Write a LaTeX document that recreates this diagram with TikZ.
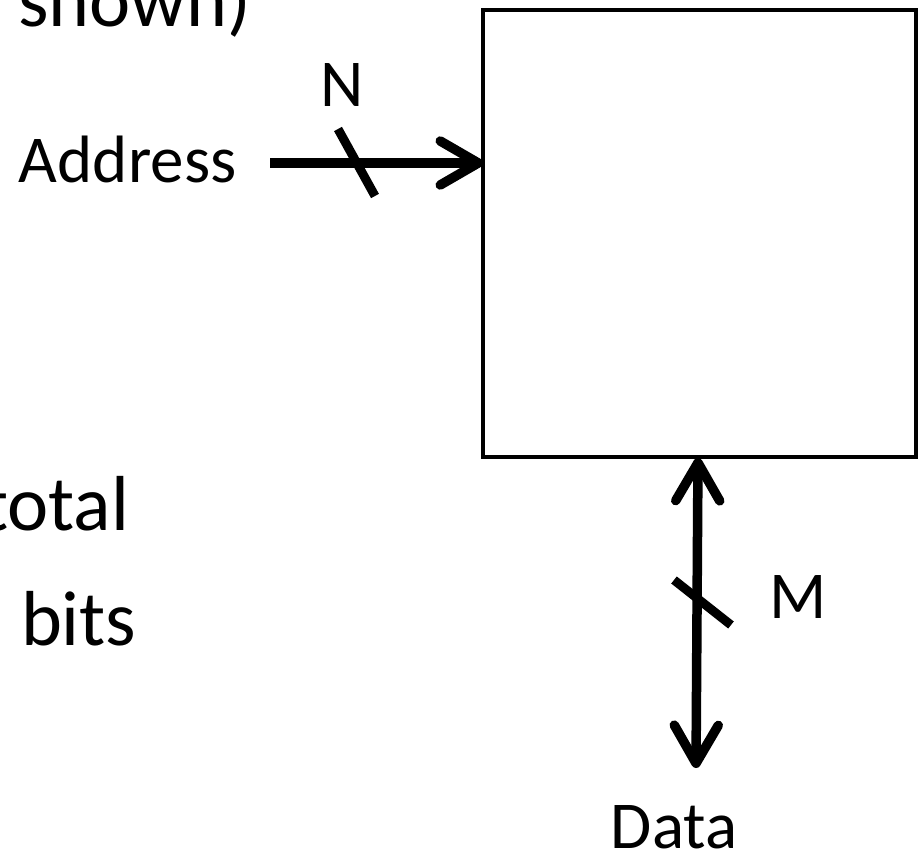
\documentclass[tikz,border=0pt]{standalone}
\usepackage{fontspec}
\setmainfont{Carlito}
\usetikzlibrary{arrows.meta}

\tikzset{
  lbltext/.style={inner sep=0pt, outer sep=0pt, font=\fontsize{67}{80}\selectfont},
  bodytext/.style={inner sep=0pt, outer sep=0pt, font=\fontsize{78}{92}\selectfont},
  memblock/.style={draw, line width=4.5pt, inner sep=0pt, outer sep=0pt,
    minimum width=433pt, minimum height=447pt},
  bus/.style={line width=9.5pt},
  bustip/.tip={Straight Barb[length=38pt, width=44pt, round]},
  buswidth/.style={line width=9pt}
}

\begin{document}
\begin{tikzpicture}[x=1pt, y=-1pt]
  \useasboundingbox (0,0) rectangle (921,853);
  \clip (0,0) rectangle (921,853);

  % memory block
  \node[memblock] (mem) at (699.5,233.5) {};

  % left-hand text (partly outside the frame)
  \node[bodytext, anchor=base west] (shown) at (18,27) {shown)};
  \node[bodytext, anchor=base east] (total) at (129,530) {total};
  \node[bodytext, anchor=base west] (bits) at (21,645) {bits};

  % address input bus
  \node[lbltext, anchor=base west] (addr) at (19,183) {Address};
  \coordinate (astart) at (270,163);
  \draw[bus, -bustip] (astart) -- (mem.west |- astart);
  \draw[buswidth] (338,129) -- (375,196);
  \node[lbltext, anchor=base] (nlab) at (342,107) {N};

  % bidirectional data bus
  \coordinate (dtop) at (698,458);
  \coordinate (dend) at (696,768);
  \draw[bus, bustip-bustip] (dtop) -- (dend);
  \draw[buswidth] (674,580) -- (731,625);
  \node[lbltext, anchor=base west] (mlab) at (769,618) {M};
  \node[lbltext, anchor=base] (data) at (674,848) {Data};
\end{tikzpicture}
\end{document}
